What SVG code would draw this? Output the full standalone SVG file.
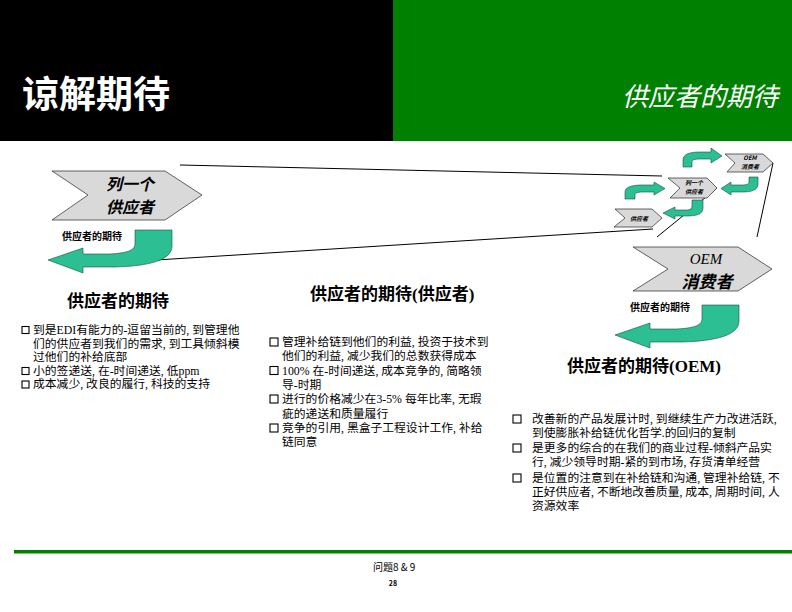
<svg xmlns="http://www.w3.org/2000/svg" width="792" height="612" viewBox="0 0 792 612">
<defs>
<style>
.cjk{font-family:"Noto Sans CJK SC","Liberation Sans",sans-serif;}
.ser{font-family:"Liberation Serif","Noto Sans CJK SC",serif;}
.chev{fill:#d9d9d9;stroke:#333;stroke-width:0.75;}
.arr{fill:#2bbf93;stroke:#1d4d40;stroke-width:0.6;}
.ln{stroke:#000;stroke-width:1;fill:none;}
.lst{font-family:"Liberation Serif","Noto Sans CJK SC",serif;font-size:11.8px;fill:#000;}
.box{fill:#fff;stroke:#000;stroke-width:1.1;}
.hd{font-family:"Liberation Serif","Noto Sans CJK SC",serif;font-size:17px;font-weight:bold;fill:#000;}
.lbl{font-family:"Noto Sans CJK SC",sans-serif;font-size:10px;font-weight:bold;fill:#000;}
.tiny{font-family:"Noto Sans CJK SC",sans-serif;font-size:6px;font-weight:bold;font-style:italic;fill:#000;text-anchor:middle;}
</style>
</defs>
<rect width="792" height="612" fill="#fff"/>
<g id="header">
<rect x="0" y="0" width="393" height="141" fill="#000"/>
<rect x="393" y="0" width="399" height="141" fill="#008000"/>
<text x="22" y="108" class="cjk" font-size="37" font-weight="bold" fill="#fff">谅解期待</text>
<text x="778" y="106" class="cjk" font-size="26" font-style="italic" fill="#fff" text-anchor="end">供应者的期待</text>
</g>
<g id="connectors">
<line class="ln" x1="180" y1="165" x2="662" y2="176"/>
<line class="ln" x1="140" y1="261" x2="653" y2="229"/>
<line class="ln" x1="717" y1="188" x2="657" y2="237"/>
<line class="ln" x1="773" y1="163" x2="757" y2="237"/>
</g>
<g id="node-supplier-chevron">
<polygon class="chev" points="52,171 165,171 202,195 165,220 52,220 88,195"/>
<text x="130" y="190" class="cjk" font-size="16" font-weight="bold" font-style="italic" text-anchor="middle">列一个</text>
<text x="130" y="213" class="cjk" font-size="16" font-weight="bold" font-style="italic" text-anchor="middle">供应者</text>
</g>
<g id="node-supplier-arrow">
<text x="62" y="240" class="lbl">供应者的期待</text>
<path class="arr" d="M135,230 L172,230 L172,246 C172,260 150,266 115,267 L83,267 L83,273 L48,260 L83,248 L83,254 L110,254 C128,253 135,250 135,244 Z"/>
</g>
<g id="node-mini-diagram">
<polygon class="chev" points="725,154 763,154 773,163 763,172 727,172 735,163"/>
<text x="750" y="160" class="tiny" font-family="Liberation Serif" font-weight="normal">OEM</text>
<text x="750" y="169" class="tiny">消费者</text>
<polygon class="chev" points="668,178 707,178 717,188 707,198 670,198 680,188"/>
<text x="694" y="185" class="tiny">列一个</text>
<text x="694" y="194" class="tiny">供应者</text>
<polygon class="chev" points="615,209 652,209 662,218 652,227 614,227 625,218"/>
<text x="639" y="220.5" class="tiny">供应者</text>
<path class="arr" d="M683,167 L683,160 C683,154 690,152 700,152 L711,152 L711,148 L722,156 L711,163 L711,159 L700,159 C694,159 692,160 692,162 L692,167 Z"/>
<path class="arr" d="M625,199 L625,192 C625,187 632,185 642,185 L654,185 L654,182 L665,188.5 L654,195 L654,192 L643,192 C637,192 635,193 635,195 L635,199 Z"/>
<path class="arr" d="M749,177 L758,177 L758,184 C758,190 752,192 742,192 L731,192 L731,195 L721,188.5 L731,182 L731,185 L742,185 C747,185 749,184 749,182 Z"/>
<path class="arr" d="M692,200 L703,200 L703,208 C703,214 697,216 687,216 L675,216 L675,219 L663,213 L675,207 L675,210 L686,210 C690,210 692,209 692,206 Z"/>
</g>
<g id="node-oem-chevron">
<polygon class="chev" points="633,247 738,247 772,269 738,291 633,291 668,269"/>
<text x="706" y="264" font-family="Liberation Serif" font-size="15" font-style="italic" text-anchor="middle">OEM</text>
<text x="707" y="288" class="cjk" font-size="17" font-weight="bold" font-style="italic" text-anchor="middle">消费者</text>
</g>
<g id="node-oem-arrow">
<text x="630" y="311" class="lbl">供应者的期待</text>
<path class="arr" transform="translate(567,75)" d="M135,230 L172,230 L172,246 C172,260 150,266 115,267 L83,267 L83,273 L48,260 L83,248 L83,254 L110,254 C128,253 135,250 135,244 Z"/>
</g>
<g id="node-list-left">
<text x="67" y="307" class="hd">供应者的期待</text>
<rect class="box" x="22" y="326.5" width="7" height="7"/>
<rect class="box" x="22" y="367.5" width="7" height="7"/>
<rect class="box" x="22" y="381" width="7" height="7"/>
<text class="lst" x="33" y="334">到是EDI有能力的-逗留当前的, 到管理他</text>
<text class="lst" x="33" y="348">们的供应者到我们的需求, 到工具倾斜模</text>
<text class="lst" x="33" y="361">过他们的补给底部</text>
<text class="lst" x="33" y="375">小的签递送, 在-时间递送, 低ppm</text>
<text class="lst" x="33" y="388">成本减少, 改良的履行, 科技的支持</text>
</g>
<g id="node-list-middle">
<text x="310" y="300" class="hd">供应者的期待(供应者)</text>
<rect class="box" x="270" y="338" width="8" height="8"/>
<rect class="box" x="270" y="366.5" width="8" height="8"/>
<rect class="box" x="270" y="395" width="8" height="8"/>
<rect class="box" x="270" y="424" width="8" height="8"/>
<text class="lst" x="282" y="346">管理补给链到他们的利益, 投资于技术到</text>
<text class="lst" x="282" y="360">他们的利益, 减少我们的总数获得成本</text>
<text class="lst" x="282" y="375">100% 在-时间递送, 成本竞争的, 简略领</text>
<text class="lst" x="282" y="389">导-时期</text>
<text class="lst" x="282" y="403">进行的价格减少在3-5% 每年比率, 无瑕</text>
<text class="lst" x="282" y="418">疵的递送和质量履行</text>
<text class="lst" x="282" y="432">竞争的引用, 黑盒子工程设计工作, 补给</text>
<text class="lst" x="282" y="446">链同意</text>
</g>
<g id="node-list-right">
<text x="567" y="372" class="hd" font-size="18">供应者的期待(OEM)</text>
<rect class="box" x="513" y="415" width="8" height="8"/>
<rect class="box" x="513" y="444" width="8" height="8"/>
<rect class="box" x="513" y="474" width="8" height="8"/>
<text class="lst" x="532" y="423">改善新的产品发展计时, 到继续生产力改进活跃,</text>
<text class="lst" x="532" y="437">到使膨胀补给链优化哲学.的回归的复制</text>
<text class="lst" x="532" y="452">是更多的综合的在我们的商业过程-倾斜产品实</text>
<text class="lst" x="532" y="466">行, 减少领导时期-紧的到市场, 存货清单经营</text>
<text class="lst" x="532" y="482">是位置的注意到在补给链和沟通, 管理补给链, 不</text>
<text class="lst" x="532" y="496">正好供应者, 不断地改善质量, 成本, 周期时间, 人</text>
<text class="lst" x="532" y="510">资源效率</text>
</g>
<g id="footer">
<rect x="14" y="550" width="778" height="3.5" fill="#008000"/>
<text x="373" y="571" class="cjk" font-size="10">问题8 &amp; 9</text>
<text x="393" y="586" class="cjk" font-size="7" font-weight="bold" text-anchor="middle">28</text>
</g>
</svg>
